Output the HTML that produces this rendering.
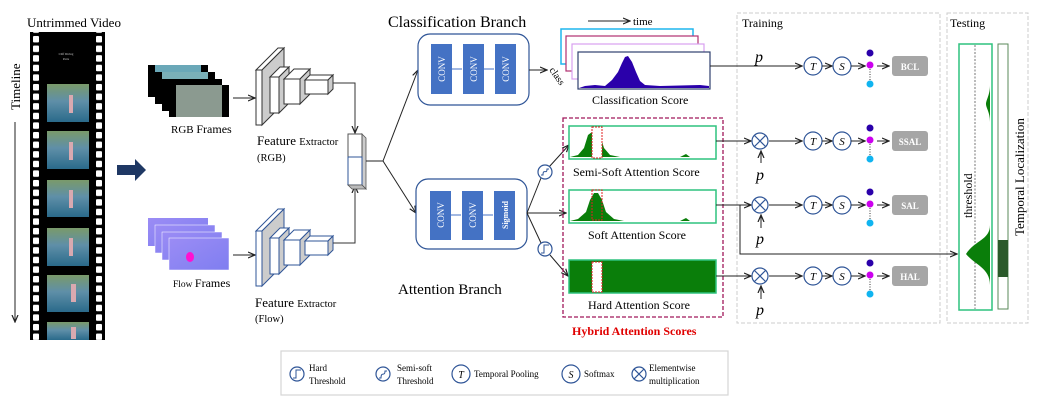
<!DOCTYPE html>
<html><head><meta charset="utf-8"><style>
html,body{margin:0;padding:0;background:#fff;}
svg{display:block;font-family:"Liberation Serif",serif;}
</style></head><body>
<svg width="1038" height="409" viewBox="0 0 1038 409" xmlns="http://www.w3.org/2000/svg">
<defs>
<marker id="ah" markerWidth="8" markerHeight="8" refX="7" refY="4" orient="auto" markerUnits="userSpaceOnUse"><path d="M0,1 L7,4 L0,7" fill="none" stroke="#222" stroke-width="1.2"/></marker>
<pattern id="holesL" x="33" y="35" width="6" height="9.6" patternUnits="userSpaceOnUse"><rect x="0" y="1" width="6" height="6.5" rx="1" fill="#fff"/></pattern>
<pattern id="holesR" x="96" y="35" width="6" height="9.6" patternUnits="userSpaceOnUse"><rect x="0" y="1" width="6" height="6.5" rx="1" fill="#fff"/></pattern>
<linearGradient id="water" x1="0" y1="0" x2="0" y2="1"><stop offset="0" stop-color="#7a9a6a"/><stop offset="0.45" stop-color="#5f8fa8"/><stop offset="1" stop-color="#2a6a8a"/></linearGradient>
<linearGradient id="flow" x1="0" y1="0" x2="1" y2="1"><stop offset="0" stop-color="#9b8cf5"/><stop offset="1" stop-color="#7f7ef0"/></linearGradient>
</defs>

<!-- Untrimmed video -->
<text x="27" y="27" font-size="13">Untrimmed Video</text>
<rect x="30" y="32" width="75" height="308" fill="#000"/>
<rect x="33" y="32" width="6" height="308" fill="url(#holesL)"/>
<rect x="96" y="32" width="6" height="308" fill="url(#holesR)"/>
<text x="66" y="55" font-size="3" fill="#ccc" text-anchor="middle">Cliff Diving</text>
<text x="66" y="60" font-size="3" fill="#ccc" text-anchor="middle">Paris</text>
<g>
<rect x="47" y="84" width="42" height="38" fill="url(#water)"/>
<rect x="47" y="131" width="42" height="38" fill="url(#water)"/>
<rect x="47" y="180" width="42" height="37" fill="url(#water)"/>
<rect x="47" y="228" width="42" height="38" fill="url(#water)"/>
<rect x="47" y="275" width="42" height="37" fill="url(#water)"/>
<rect x="47" y="322" width="42" height="18" fill="url(#water)"/>
</g>
<g fill="#d9a9b0"><rect x="69" y="95" width="4" height="18"/><rect x="69" y="142" width="4" height="18"/><rect x="69" y="190" width="4" height="18"/><rect x="69" y="238" width="4" height="18"/><rect x="71" y="284" width="5" height="18"/><rect x="71" y="327" width="5" height="12"/></g>
<text transform="translate(20,110) rotate(-90)" font-size="13">Timeline</text>
<line x1="15" y1="122" x2="15" y2="322" stroke="#222" stroke-width="1" marker-end="url(#ah)"/>

<!-- big arrow -->
<polygon points="117,165 135,165 135,159 146,170 135,181 135,175 117,175" fill="#1f3864"/>

<!-- RGB frames -->
<rect x="148" y="65" width="60" height="32" fill="#000"/><rect x="155" y="65" width="46" height="12" fill="#6aa8b8"/>
<rect x="155" y="72" width="60" height="32" fill="#000"/><rect x="162" y="72" width="46" height="14" fill="#7ab0b8"/>
<rect x="162" y="79" width="60" height="32" fill="#000"/>
<rect x="169" y="85" width="60" height="32" fill="#000"/><rect x="176" y="85" width="46" height="32" fill="#8b9a90"/>
<text x="171" y="133" font-size="11">RGB <tspan font-size="12">Frames</tspan></text>
<line x1="233" y1="98" x2="255" y2="98" stroke="#222" marker-end="url(#ah)"/>

<!-- Feature extractor RGB -->
<g stroke="#333" stroke-width="1">
<polygon points="256,70 278,48 284,48 262,70" fill="#fff"/><polygon points="262,70 284,48 284,103 262,125" fill="#ccc"/><rect x="256" y="70" width="6" height="55" fill="#fff"/>
<polygon points="270,77 280,67 289,67 279,77" fill="#fff"/><polygon points="279,77 289,67 289,103 279,113" fill="#ccc"/><rect x="270" y="77" width="9" height="36" fill="#fff"/>
<polygon points="284,79 294,69 310,69 300,79" fill="#fff"/><polygon points="300,79 310,69 310,94 300,104" fill="#ccc"/><rect x="284" y="79" width="16" height="25" fill="#fff"/>
<polygon points="305,80 310,75 333,75 328,80" fill="#fff"/><polygon points="328,80 333,75 333,89 328,94" fill="#ccc"/><rect x="305" y="80" width="23" height="14" fill="#fff"/>
</g>
<text x="257" y="145" font-size="13">Feature <tspan font-size="10.5">Extractor</tspan></text>
<text x="257" y="161" font-size="10.5">(RGB)</text>

<!-- Flow frames -->
<rect x="148" y="218" width="60" height="28" fill="url(#flow)"/>
<rect x="155" y="225" width="60" height="28" fill="url(#flow)" stroke="#fff" stroke-width="0.5"/>
<rect x="162" y="232" width="60" height="28" fill="url(#flow)" stroke="#fff" stroke-width="0.5"/>
<rect x="169" y="238" width="60" height="32" fill="url(#flow)" stroke="#fff" stroke-width="0.5"/>
<ellipse cx="190" cy="257" rx="4" ry="5" fill="#ff10d0"/>
<text x="173" y="287" font-size="9.5">Flow <tspan font-size="12">Frames</tspan></text>
<line x1="233" y1="255" x2="255" y2="255" stroke="#222" marker-end="url(#ah)"/>

<!-- Feature extractor flow -->
<g stroke="#2f5597" stroke-width="1">
<polygon points="256,231 278,209 284,209 262,231" fill="#fff"/><polygon points="262,231 284,209 284,264 262,286" fill="#ccc"/><rect x="256" y="231" width="6" height="55" fill="#fff"/>
<polygon points="270,238 280,228 289,228 279,238" fill="#fff"/><polygon points="279,238 289,228 289,264 279,274" fill="#ccc"/><rect x="270" y="238" width="9" height="36" fill="#fff"/>
<polygon points="284,240 294,230 310,230 300,240" fill="#fff"/><polygon points="300,240 310,230 310,255 300,265" fill="#ccc"/><rect x="284" y="240" width="16" height="25" fill="#fff"/>
<polygon points="305,241 310,236 333,236 328,241" fill="#fff"/><polygon points="328,241 333,236 333,250 328,255" fill="#ccc"/><rect x="305" y="241" width="23" height="14" fill="#fff"/>
</g>
<text x="255" y="307" font-size="13">Feature <tspan font-size="10.5">Extractor</tspan></text>
<text x="255" y="322" font-size="10.5">(Flow)</text>

<!-- connectors to concat -->
<polyline points="333,83 355,83 355,133" fill="none" stroke="#333" marker-end="url(#ah)"/>
<polyline points="333,243 355,243 355,186" fill="none" stroke="#333" marker-end="url(#ah)"/>
<polygon points="362,134 366,138 366,189 362,185" fill="#ccc" stroke="#555" stroke-width="0.8"/>
<rect x="348" y="134" width="14" height="23" fill="#fff" stroke="#555"/>
<rect x="348" y="157" width="14" height="28" fill="#fff" stroke="#2f5597"/>
<polygon points="348,185 362,185 366,189 352,189" fill="#bbb" stroke="#555" stroke-width="0.8"/>
<line x1="366" y1="161" x2="383" y2="161" stroke="#222"/>
<line x1="383" y1="161" x2="418" y2="70" stroke="#222" marker-end="url(#ah)"/>
<line x1="383" y1="161" x2="416" y2="213" stroke="#222" marker-end="url(#ah)"/>

<!-- Classification branch -->
<text x="388" y="27" font-size="16">Classification Branch</text>
<rect x="418" y="34" width="111" height="71" rx="12" fill="#fff" stroke="#2f5597" stroke-width="1.2"/>
<g fill="#4472c4"><rect x="431" y="44" width="21" height="50"/><rect x="463" y="44" width="21" height="50"/><rect x="495" y="44" width="21" height="50"/></g>
<g stroke="#4472c4" fill="none"><line x1="452" y1="69" x2="462" y2="69"/><line x1="484" y1="69" x2="494" y2="69"/></g>
<g fill="#fff" font-size="9"><text transform="translate(445,69) rotate(-90)" text-anchor="middle">CONV</text><text transform="translate(477,69) rotate(-90)" text-anchor="middle">CONV</text><text transform="translate(509,69) rotate(-90)" text-anchor="middle">CONV</text></g>
<line x1="529" y1="70" x2="547" y2="70" stroke="#222" marker-end="url(#ah)"/>
<text transform="translate(549,70) rotate(55)" font-size="10">class</text>

<line x1="588" y1="21" x2="630" y2="21" stroke="#222" marker-end="url(#ah)"/>
<text x="633" y="25" font-size="11">time</text>
<rect x="561" y="29" width="132" height="35" fill="#fff" stroke="#1fb6ee" stroke-width="1.5"/>
<rect x="566" y="36" width="132" height="35" fill="#fff" stroke="#b03070" stroke-width="1.2"/>
<rect x="572" y="44" width="132" height="35" fill="#fff" stroke="#d8a0f0" stroke-width="1.2"/>
<rect x="578" y="52" width="132" height="37" fill="#fff" stroke="#2f3f6f" stroke-width="1.2"/>
<path d="M579,88 L585,86 L595,85 L605,86 L612,80 L618,72 L622,63 L625,57 L628,56 L632,62 L636,72 L640,81 L645,85 L660,86 L700,85 L709,86 L709,88 Z" fill="#2a00aa"/>
<text x="592" y="104" font-size="12">Classification Score</text>

<!-- Attention branch -->
<rect x="416" y="179" width="111" height="70" rx="12" fill="#fff" stroke="#2f5597" stroke-width="1.2"/>
<g fill="#4472c4"><rect x="430" y="191" width="21" height="49"/><rect x="462" y="191" width="21" height="49"/><rect x="494" y="191" width="21" height="49"/></g>
<g stroke="#4472c4"><line x1="451" y1="215" x2="461" y2="215"/><line x1="483" y1="215" x2="493" y2="215"/></g>
<g fill="#fff" font-size="9"><text transform="translate(444,215) rotate(-90)" text-anchor="middle">CONV</text><text transform="translate(476,215) rotate(-90)" text-anchor="middle">CONV</text><text transform="translate(508,215) rotate(-90)" text-anchor="middle" font-weight="bold" font-size="8">Sigmoid</text></g>
<text x="398" y="294" font-size="15">Attention Branch</text>

<line x1="527" y1="213" x2="541" y2="178" stroke="#222"/>
<line x1="549" y1="167" x2="569" y2="145" stroke="#222" marker-end="url(#ah)"/>
<line x1="527" y1="213" x2="566" y2="213" stroke="#222" marker-end="url(#ah)"/>
<line x1="527" y1="213" x2="541" y2="243" stroke="#222"/>
<line x1="550" y1="255" x2="568" y2="276" stroke="#222" marker-end="url(#ah)"/>
<circle cx="545" cy="172" r="7" fill="#fff" stroke="#2f5597" stroke-width="1.2"/>
<path d="M541,175 L543,175 C543,168 547,175 547,169 L549,169" fill="none" stroke="#2f5597"/>
<circle cx="545" cy="249" r="7" fill="#fff" stroke="#2f5597" stroke-width="1.2"/>
<path d="M541,253 L544,253 L544,245 L549,245" fill="none" stroke="#2f5597"/>

<!-- hybrid -->
<rect x="563" y="118" width="160" height="199" fill="none" stroke="#a0185a" stroke-width="1.3" stroke-dasharray="4,2"/>
<rect x="569" y="126" width="147" height="33" fill="#fff" stroke="#2ec27e" stroke-width="1.5"/>
<path d="M570,157 L578,155 L584,148 L588,135 L592,132 L596,132 L600,135 L604,148 L610,155 L620,157 L680,157 L686,154 L690,157 L715,157 Z" fill="#0a7e0a"/>
<rect x="592" y="127" width="10" height="31" fill="#fff" stroke="#e02020" stroke-dasharray="2,1"/>
<text x="573" y="176" font-size="12">Semi-Soft Attention Score</text>
<rect x="569" y="190" width="147" height="33" fill="#fff" stroke="#2ec27e" stroke-width="1.5"/>
<path d="M570,221 L578,219 L586,212 L590,200 L594,193 L598,193 L602,200 L606,212 L614,219 L624,221 L680,221 L686,218 L690,221 L715,221 Z" fill="#0a7e0a"/>
<rect x="592" y="190" width="10" height="30" fill="none" stroke="#e02020" stroke-dasharray="2,1"/>
<text x="588" y="239" font-size="12">Soft Attention Score</text>
<rect x="569" y="260" width="147" height="33" fill="#0a7e0a" stroke="#2ec27e" stroke-width="1.5"/>
<rect x="592" y="262" width="10" height="30" fill="#fff" stroke="#e02020" stroke-dasharray="2,1"/>
<text x="588" y="309" font-size="12">Hard Attention Score</text>
<text x="572" y="335" font-size="12" font-weight="bold" fill="#e00000">Hybrid Attention Scores</text>

<!-- Training / Testing boxes -->
<rect x="737" y="13" width="203" height="310" fill="none" stroke="#ccc" stroke-dasharray="4,2"/>
<text x="742" y="27" font-size="12">Training</text>
<rect x="947" y="13" width="81" height="310" fill="none" stroke="#ccc" stroke-dasharray="4,2"/>
<text x="950" y="27" font-size="12">Testing</text>

<!-- Row connectors -->
<line x1="710" y1="66" x2="802" y2="66" stroke="#222" marker-end="url(#ah)"/>
<text x="755" y="62" font-size="16" font-style="italic">p</text>
<line x1="716" y1="141" x2="751" y2="141" stroke="#222" marker-end="url(#ah)"/>
<line x1="716" y1="205" x2="751" y2="205" stroke="#222" marker-end="url(#ah)"/>
<polyline points="740,205 740,254 957,254" fill="none" stroke="#222" marker-end="url(#ah)"/>
<line x1="716" y1="276" x2="751" y2="276" stroke="#222" marker-end="url(#ah)"/>

<g stroke="#222" fill="none">
<line x1="769" y1="141" x2="802" y2="141" marker-end="url(#ah)"/>
<line x1="769" y1="205" x2="802" y2="205" marker-end="url(#ah)"/>
<line x1="769" y1="276" x2="802" y2="276" marker-end="url(#ah)"/>
<line x1="761" y1="163" x2="761" y2="151" marker-end="url(#ah)"/>
<line x1="761" y1="228" x2="761" y2="215" marker-end="url(#ah)"/>
<line x1="761" y1="299" x2="761" y2="286" marker-end="url(#ah)"/>
</g>
<g fill="#fff" stroke="#2f5597" stroke-width="1.2">
<circle cx="760" cy="141" r="8"/><circle cx="760" cy="205" r="8"/><circle cx="760" cy="276" r="8"/>
</g>
<g stroke="#2f5597" stroke-width="1.2"><path d="M754.5,135.5 L765.5,146.5 M765.5,135.5 L754.5,146.5 M754.5,199.5 L765.5,210.5 M765.5,199.5 L754.5,210.5 M754.5,270.5 L765.5,281.5 M765.5,270.5 L754.5,281.5"/></g>
<g font-size="16" font-style="italic"><text x="756" y="180">p</text><text x="756" y="244">p</text><text x="756" y="315">p</text></g>

<!-- T S dots boxes per row -->
<g transform="translate(0,66)">
<circle cx="813" cy="0" r="9" fill="#fff" stroke="#2f5597" stroke-width="1.2"/><text x="813" y="4" font-size="11" font-style="italic" text-anchor="middle">T</text>
<line x1="822" y1="0" x2="832" y2="0" stroke="#222" marker-end="url(#ah)"/>
<circle cx="842" cy="0" r="9" fill="#fff" stroke="#2f5597" stroke-width="1.2"/><text x="842" y="4" font-size="11" font-style="italic" text-anchor="middle">S</text>
<line x1="851" y1="0" x2="865" y2="0" stroke="#222" marker-end="url(#ah)"/>
<circle cx="870" cy="-13" r="3.5" fill="#2a00aa"/><circle cx="870" cy="-1" r="3.5" fill="#cc00ee"/><line x1="870" y1="3" x2="870" y2="14" stroke="#333" stroke-dasharray="1,1.5"/><circle cx="870" cy="18" r="3.5" fill="#10b4f0"/>
<line x1="877" y1="0" x2="889" y2="0" stroke="#222" marker-end="url(#ah)"/>
<rect x="892" y="-10" width="36" height="20" rx="3" fill="#a6a6a6"/><text x="910" y="4" font-size="9" fill="#fff" font-weight="bold" text-anchor="middle">BCL</text>
</g>
<g transform="translate(0,141)">
<circle cx="813" cy="0" r="9" fill="#fff" stroke="#2f5597" stroke-width="1.2"/><text x="813" y="4" font-size="11" font-style="italic" text-anchor="middle">T</text>
<line x1="822" y1="0" x2="832" y2="0" stroke="#222" marker-end="url(#ah)"/>
<circle cx="842" cy="0" r="9" fill="#fff" stroke="#2f5597" stroke-width="1.2"/><text x="842" y="4" font-size="11" font-style="italic" text-anchor="middle">S</text>
<line x1="851" y1="0" x2="865" y2="0" stroke="#222" marker-end="url(#ah)"/>
<circle cx="870" cy="-13" r="3.5" fill="#2a00aa"/><circle cx="870" cy="-1" r="3.5" fill="#cc00ee"/><line x1="870" y1="3" x2="870" y2="14" stroke="#333" stroke-dasharray="1,1.5"/><circle cx="870" cy="18" r="3.5" fill="#10b4f0"/>
<line x1="877" y1="0" x2="889" y2="0" stroke="#222" marker-end="url(#ah)"/>
<rect x="892" y="-10" width="36" height="20" rx="3" fill="#a6a6a6"/><text x="910" y="4" font-size="9" fill="#fff" font-weight="bold" text-anchor="middle">SSAL</text>
</g>
<g transform="translate(0,205)">
<circle cx="813" cy="0" r="9" fill="#fff" stroke="#2f5597" stroke-width="1.2"/><text x="813" y="4" font-size="11" font-style="italic" text-anchor="middle">T</text>
<line x1="822" y1="0" x2="832" y2="0" stroke="#222" marker-end="url(#ah)"/>
<circle cx="842" cy="0" r="9" fill="#fff" stroke="#2f5597" stroke-width="1.2"/><text x="842" y="4" font-size="11" font-style="italic" text-anchor="middle">S</text>
<line x1="851" y1="0" x2="865" y2="0" stroke="#222" marker-end="url(#ah)"/>
<circle cx="870" cy="-13" r="3.5" fill="#2a00aa"/><circle cx="870" cy="-1" r="3.5" fill="#cc00ee"/><line x1="870" y1="3" x2="870" y2="14" stroke="#333" stroke-dasharray="1,1.5"/><circle cx="870" cy="18" r="3.5" fill="#10b4f0"/>
<line x1="877" y1="0" x2="889" y2="0" stroke="#222" marker-end="url(#ah)"/>
<rect x="892" y="-10" width="36" height="20" rx="3" fill="#a6a6a6"/><text x="910" y="4" font-size="9" fill="#fff" font-weight="bold" text-anchor="middle">SAL</text>
</g>
<g transform="translate(0,276)">
<circle cx="813" cy="0" r="9" fill="#fff" stroke="#2f5597" stroke-width="1.2"/><text x="813" y="4" font-size="11" font-style="italic" text-anchor="middle">T</text>
<line x1="822" y1="0" x2="832" y2="0" stroke="#222" marker-end="url(#ah)"/>
<circle cx="842" cy="0" r="9" fill="#fff" stroke="#2f5597" stroke-width="1.2"/><text x="842" y="4" font-size="11" font-style="italic" text-anchor="middle">S</text>
<line x1="851" y1="0" x2="865" y2="0" stroke="#222" marker-end="url(#ah)"/>
<circle cx="870" cy="-13" r="3.5" fill="#2a00aa"/><circle cx="870" cy="-1" r="3.5" fill="#cc00ee"/><line x1="870" y1="3" x2="870" y2="14" stroke="#333" stroke-dasharray="1,1.5"/><circle cx="870" cy="18" r="3.5" fill="#10b4f0"/>
<line x1="877" y1="0" x2="889" y2="0" stroke="#222" marker-end="url(#ah)"/>
<rect x="892" y="-10" width="36" height="20" rx="3" fill="#a6a6a6"/><text x="910" y="4" font-size="9" fill="#fff" font-weight="bold" text-anchor="middle">HAL</text>
</g>

<!-- Testing -->
<rect x="959" y="44" width="33" height="266" fill="#fff" stroke="#2ec27e" stroke-width="1.5"/>
<line x1="975" y1="45" x2="975" y2="309" stroke="#555" stroke-dasharray="2,1.5" stroke-width="0.8"/>
<path d="M990,45 L990,85 C990,95 986,100 986,104 C986,108 990,112 990,122 L990,225 C990,240 975,240 966,254 C975,265 990,268 990,285 L990,309 Z" fill="#0a7e0a"/>
<text transform="translate(972,218) rotate(-90)" font-size="12">threshold</text>
<rect x="998" y="44" width="10" height="265" fill="#fff" stroke="#5a8a5a" stroke-width="1"/>
<rect x="998" y="240" width="10" height="37" fill="#2a5a2a"/>
<text transform="translate(1024,236) rotate(-90)" font-size="13">Temporal Localization</text>

<!-- Legend -->
<rect x="281" y="351" width="447" height="44" fill="#fff" stroke="#d6d6d6" stroke-width="1.2"/>
<circle cx="297" cy="374" r="7" fill="#fff" stroke="#2f5597" stroke-width="1.2"/>
<path d="M293,378 L296,378 L296,370 L301,370" fill="none" stroke="#2f5597"/>
<text x="309" y="371" font-size="9">Hard</text><text x="309" y="384" font-size="9">Threshold</text>
<circle cx="383" cy="374" r="7" fill="#fff" stroke="#2f5597" stroke-width="1.2"/>
<path d="M379,378 L381,378 C381,371 385,377 385,371 L387,371" fill="none" stroke="#2f5597"/>
<text x="397" y="371" font-size="9">Semi-soft</text><text x="397" y="384" font-size="9">Threshold</text>
<circle cx="461" cy="374" r="9" fill="#fff" stroke="#2f5597" stroke-width="1.2"/><text x="461" y="378" font-size="10" font-style="italic" text-anchor="middle">T</text>
<text x="474" y="377" font-size="9">Temporal Pooling</text>
<circle cx="571" cy="374" r="9" fill="#fff" stroke="#2f5597" stroke-width="1.2"/><text x="571" y="378" font-size="10" font-style="italic" text-anchor="middle">S</text>
<text x="584" y="377" font-size="9">Softmax</text>
<circle cx="639" cy="374" r="7" fill="#fff" stroke="#2f5597" stroke-width="1.2"/>
<path d="M634,369 L644,379 M644,369 L634,379" stroke="#2f5597" stroke-width="1.2"/>
<text x="649" y="371" font-size="9">Elementwise</text><text x="649" y="384" font-size="9">multiplication</text>
</svg>
</body></html>
